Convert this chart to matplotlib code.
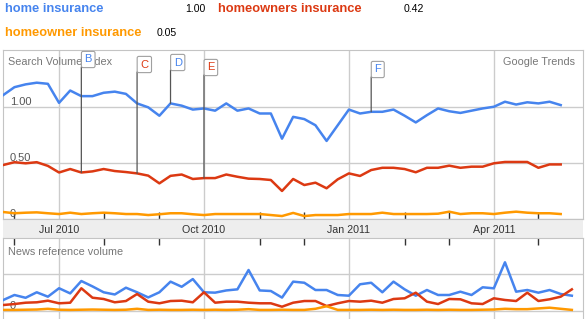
import numpy as np
import matplotlib
matplotlib.use("Agg")
import matplotlib.pyplot as plt
import matplotlib.transforms as mtransforms

plt.rcParams['font.family'] = ['Liberation Sans', 'DejaVu Sans']

# ---------------- data ----------------
series_names = ["home insurance", "homeowners insurance", "homeowner insurance"]
series_averages = ["1.00", "0.42", "0.05"]
series_colors = ["#4684EE", "#DC3912", "#FF9900"]

weeks = np.arange(51)        # weekly points, search volume
news_weeks = np.arange(52)   # weekly points, news reference volume

search_home = [1.11, 1.18, 1.205, 1.22, 1.21, 1.04, 1.15, 1.10, 1.10, 1.13, 1.14, 1.12, 1.035, 1.00,
               0.925, 1.035, 1.015, 0.98, 0.99, 0.97, 1.035, 0.97, 0.99, 0.945, 0.945, 0.72, 0.915,
               0.895, 0.84, 0.70, 0.84, 0.98, 0.945, 0.96, 0.96, 0.98, 0.925, 0.865, 0.93, 0.99,
               0.965, 0.95, 0.97, 0.99, 1.005, 1.05, 1.025, 1.045, 1.035, 1.05, 1.02]
search_homeowners = [0.485, 0.51, 0.50, 0.51, 0.477, 0.418, 0.449, 0.418, 0.428, 0.449,
                     0.431, 0.422, 0.41, 0.39, 0.321, 0.388, 0.40, 0.36, 0.368, 0.368,
                     0.40, 0.38, 0.363, 0.36, 0.351, 0.253, 0.36,
                     0.306, 0.327, 0.277, 0.357, 0.41, 0.387, 0.44, 0.46, 0.46, 0.449,
                     0.42, 0.46, 0.46, 0.479, 0.46, 0.47, 0.47, 0.50, 0.512, 0.512,
                     0.512, 0.46, 0.49, 0.49]
search_homeowner = [0.065, 0.054, 0.059, 0.062, 0.054, 0.047, 0.059, 0.047, 0.054, 0.059,
                    0.054, 0.047, 0.047, 0.038, 0.045, 0.054, 0.054, 0.045, 0.038, 0.047,
                    0.047, 0.047, 0.047, 0.047, 0.038, 0.029, 0.057, 0.029, 0.038, 0.038,
                    0.038, 0.047, 0.047, 0.047, 0.059, 0.047, 0.047, 0.047, 0.047, 0.05,
                    0.068, 0.047, 0.054, 0.054, 0.047, 0.059, 0.068, 0.059, 0.054, 0.054,
                    0.047]

news_home = [0.30, 0.436, 0.36, 0.51, 0.39, 0.62, 0.48, 0.817, 0.67, 0.51,
             0.45, 0.635, 0.51, 0.37, 0.51, 0.80, 0.66, 0.87, 0.51, 0.50,
             0.56, 0.59, 1.117, 0.56, 0.545, 0.365, 0.80, 0.77, 0.572, 0.572,
             0.436, 0.417, 0.728, 0.77, 0.51, 0.80, 0.59, 0.417, 0.572, 0.436,
             0.436, 0.526, 0.436, 0.646, 0.618, 1.327, 0.526, 0.572, 0.499, 0.572,
             0.463, 0.417]
news_homeowners = [0.163, 0.19, 0.226, 0.237, 0.281, 0.21, 0.226, 0.619, 0.362, 0.327,
                   0.237, 0.272, 0.463, 0.254, 0.21, 0.272, 0.281, 0.237, 0.51, 0.226,
                   0.254, 0.254, 0.226, 0.21, 0.21, 0.117, 0.226,
                   0.272, 0.272, 0.136, 0.21, 0.272, 0.254, 0.281, 0.226, 0.327, 0.346,
                   0.499, 0.254, 0.19, 0.327, 0.319, 0.21, 0.19, 0.346, 0.30, 0.272,
                   0.499, 0.272, 0.319, 0.39, 0.59]
news_homeowner = [0.03, 0.03, 0.035, 0.04, 0.06, 0.035, 0.03, 0.035, 0.04, 0.035,
                  0.03, 0.035, 0.06, 0.03, 0.035, 0.03, 0.03, 0.035, 0.03, 0.035,
                  0.03, 0.035, 0.05, 0.03, 0.03, 0.035, 0.03, 0.03, 0.06, 0.13,
                  0.03, 0.03, 0.03, 0.035, 0.03, 0.035, 0.03, 0.03, 0.035, 0.03,
                  0.035, 0.03, 0.03, 0.035, 0.04, 0.06, 0.05, 0.05, 0.07, 0.09,
                  0.06, 0.03]

month_major_weeks = [5, 18, 31, 44]
month_major_labels = ["Jul 2010", "Oct 2010", "Jan 2011", "Apr 2011"]
month_minor_weeks = [1, 9, 14, 23, 27, 36, 40, 48]
search_yticks = [0, 0.5, 1.0]
search_ylabels = ["0", "0.50", "1.00"]
news_yticks = [0, 1]
news_ylabels = ["0", ""]

event_letters = ["B", "C", "D", "E", "F"]
event_weeks = [7, 12, 15, 18, 33]
event_point_series = [1, 1, 0, 1, 0]
event_letter_series = [0, 1, 0, 1, 0]

# ---------------- layout ----------------
W, H = 588, 319
fig = plt.figure(figsize=(W / 100, H / 100), dpi=100)
fig.patch.set_facecolor("white")


def add_px_axes(l, t, r, b):
    return fig.add_axes([l / W, 1 - b / H, (r - l) / W, (b - t) / H])


GRID = "#cccccc"
FRAME = "#c4c4c4"
TICK = "#333333"
XLIM = (-0.027, 52.0)

# band behind month labels
band = add_px_axes(3, 219.3, 583, 238)
band.set_facecolor("#eeeeee")
band.set_xticks([])
band.set_yticks([])
for s in band.spines.values():
    s.set_visible(False)

# ---------------- search volume panel ----------------
AX_TOP, AX_BOT = 50, 219.3
ax = add_px_axes(3, AX_TOP, 583, AX_BOT)
search = [search_home, search_homeowners, search_homeowner]
for vals, col in zip(search, series_colors):
    ax.plot(weeks, vals, color=col, lw=1.8, zorder=3)
ax.set_xlim(*XLIM)
ax.set_ylim(0, 1.512)
for s in ax.spines.values():
    s.set_color(FRAME)
ax.set_xticks(month_major_weeks, month_major_labels)
ax.set_xticks(month_minor_weeks, minor=True)
ax.tick_params(axis="x", which="major", length=0, pad=4, labelsize=7.7, labelcolor=TICK)
ax.tick_params(axis="x", which="minor", direction="in", length=5, color=TICK, width=1)
ax.grid(axis="x", which="major", color=GRID, lw=1)
ax.set_yticks(search_yticks, search_ylabels)
ax.grid(axis="y", color=GRID, lw=1)
ax.tick_params(axis="y", length=0, pad=-5, labelsize=8, labelcolor="#555555")
for lbl in ax.get_yticklabels():
    lbl.set_horizontalalignment("left")
    lbl.set_verticalalignment("bottom")
ax.set_axisbelow(True)

ax.text(5 / 580, 0.931, "Search Volume Index", transform=ax.transAxes,
        ha="left", va="center", fontsize=7.8, color="#777777", zorder=2)
ax.text(0.986, 0.931, "Google Trends", transform=ax.transAxes,
        ha="right", va="center", fontsize=7.8, color="#777777", zorder=2)

# event pins: vertical stem from the box down to the pinned point, box with letter
box_top_px = [52, 57, 55, 60, 62]
BOX_H = 15
blend = mtransforms.blended_transform_factory(ax.transData, ax.transAxes)
text_tr = mtransforms.offset_copy(blend, fig=fig, x=3.2, y=0, units="dots")
ax_h = AX_BOT - AX_TOP
for letter, wk, ps, ls, btop in zip(event_letters, event_weeks, event_point_series,
                                    event_letter_series, box_top_px):
    stem_top = (AX_BOT - (btop + BOX_H)) / ax_h
    ax.annotate("", xy=(wk, search[ps][wk]), xycoords="data",
                xytext=(wk, stem_top), textcoords=blend,
                arrowprops=dict(arrowstyle="-", color="#555555", lw=0.9,
                                shrinkA=0, shrinkB=0), zorder=4)
    ax.text(wk, (AX_BOT - (btop + BOX_H / 2)) / ax_h, letter, transform=text_tr,
            ha="left", va="center", fontsize=8, color=series_colors[ls],
            bbox=dict(boxstyle="round,pad=0.28,rounding_size=0.15",
                      fc="white", ec="#a0a0a0", lw=0.8),
            zorder=5)

# ---------------- news panel ----------------
nx = add_px_axes(3, 238, 583, 319)
news = [news_home, news_homeowners, news_homeowner]
for vals, col in zip(news, series_colors):
    nx.plot(news_weeks, vals, color=col, lw=1.8, zorder=3)
nx.set_xlim(*XLIM)
nx.set_ylim(-0.218, 1.989)
for k, s in nx.spines.items():
    s.set_color(FRAME)
nx.spines["bottom"].set_visible(False)
nx.set_xticks(month_major_weeks)
nx.set_xticks(month_minor_weeks, minor=True)
nx.tick_params(axis="x", which="both", top=True, bottom=False,
               labeltop=False, labelbottom=False, direction="in")
nx.tick_params(axis="x", which="major", length=0)
nx.tick_params(axis="x", which="minor", length=5, color=TICK, width=1)
nx.grid(axis="x", which="major", color=GRID, lw=1)
nx.set_yticks(news_yticks, news_ylabels)
nx.grid(axis="y", color=GRID, lw=1)
nx.tick_params(axis="y", length=0, pad=-5, labelsize=8, labelcolor="#555555")
for lbl in nx.get_yticklabels():
    lbl.set_horizontalalignment("left")
    lbl.set_verticalalignment("bottom")
nx.set_axisbelow(True)
nx.text(5 / 580, (319 - 251.7) / 81, "News reference volume", transform=nx.transAxes,
        ha="left", va="center", fontsize=7.8, color="#777777")

# ---------------- header legend ----------------
legend_pos = [(5, 9.5, 185), (218, 9.5, 404), (5, 33, 157)]
for name, avg, col, (xn, yc, xv) in zip(series_names, series_averages, series_colors, legend_pos):
    fig.text(xn / W, 1 - yc / H, name, color=col, fontsize=9.3, fontweight="bold",
             ha="left", va="center")
    fig.text(xv / W, 1 - yc / H, avg, color="black", fontsize=7.6,
             ha="left", va="center")

fig.savefig("out.png", dpi=100, facecolor="white")
